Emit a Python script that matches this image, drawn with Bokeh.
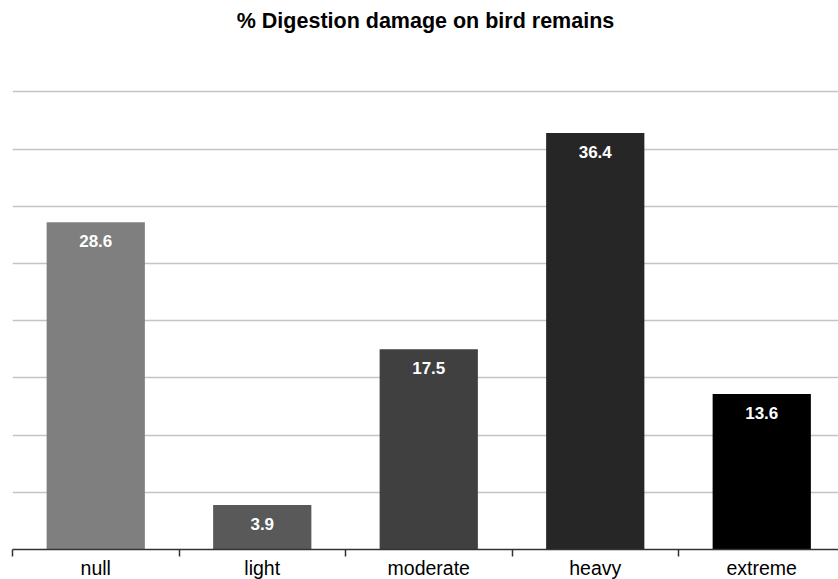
from bokeh.plotting import figure
from bokeh.models import ColumnDataSource, FixedTicker, Range1d, LabelSet
from bokeh.core.properties import value
from bokeh.embed import file_html
from bokeh.resources import INLINE

categories = ["null", "light", "moderate", "heavy", "extreme"]
values = [28.6, 3.9, 17.5, 36.4, 13.6]
colors = ["#7f7f7f", "#595959", "#404040", "#262626", "#000000"]
grid_ticks = [5, 10, 15, 20, 25, 30, 35, 40]

xpos = [i + 0.5 for i in range(len(categories))]
src = ColumnDataSource(dict(x=xpos, top=values, color=colors,
                            label=[f"{v:.1f}" for v in values]))

p = figure(frame_width=826, frame_height=507, output_backend="svg",
           toolbar_location=None,
           x_range=Range1d(0, 826 / 166.5), y_range=Range1d(0, 507 / 11.44),
           min_border_left=12, min_border_right=0, min_border_top=0,
           min_border_bottom=0)
p.outline_line_color = None
p.background_fill_color = "white"

p.title.text = "% Digestion damage on bird remains"
p.title.text_font = "Liberation Sans"
p.title.text_font_size = "21.5px"
p.title.text_font_style = "bold"
p.title.align = "center"
p.title.vertical_align = "top"
p.title.text_color = "#000000"
p.title.standoff = 16

p.vbar(x="x", top="top", width=0.59, bottom=0, fill_color="color",
       line_color=None, source=src)

labels = LabelSet(x="x", y="top", text="label", source=src,
                  text_align="center", text_baseline="top", y_offset=-13,
                  text_color="white", text_font=value("Liberation Sans"),
                  text_font_size="17px", text_font_style="bold")
p.add_layout(labels)

p.yaxis.visible = False
p.ygrid.ticker = FixedTicker(ticks=grid_ticks)
p.ygrid.grid_line_color = "#c4c4c4"
p.ygrid.grid_line_width = 1.5
p.xgrid.visible = False

ax = p.xaxis[0]
ax.ticker = FixedTicker(ticks=xpos, minor_ticks=[0, 1, 2, 3, 4])
ax.major_label_overrides = {x: c for x, c in zip(xpos, categories)}
ax.major_tick_line_color = None
ax.major_tick_out = 7
ax.major_tick_in = 0
ax.minor_tick_out = 7
ax.minor_tick_in = 0
ax.minor_tick_line_color = "#333333"
ax.minor_tick_line_width = 1.5
ax.axis_line_color = "#333333"
ax.axis_line_width = 1.5
ax.major_label_standoff = 0
ax.major_label_text_font = "Liberation Sans"
ax.major_label_text_font_size = "19.5px"
ax.major_label_text_color = "#000000"

open("out.html", "w").write(file_html(p, INLINE))
